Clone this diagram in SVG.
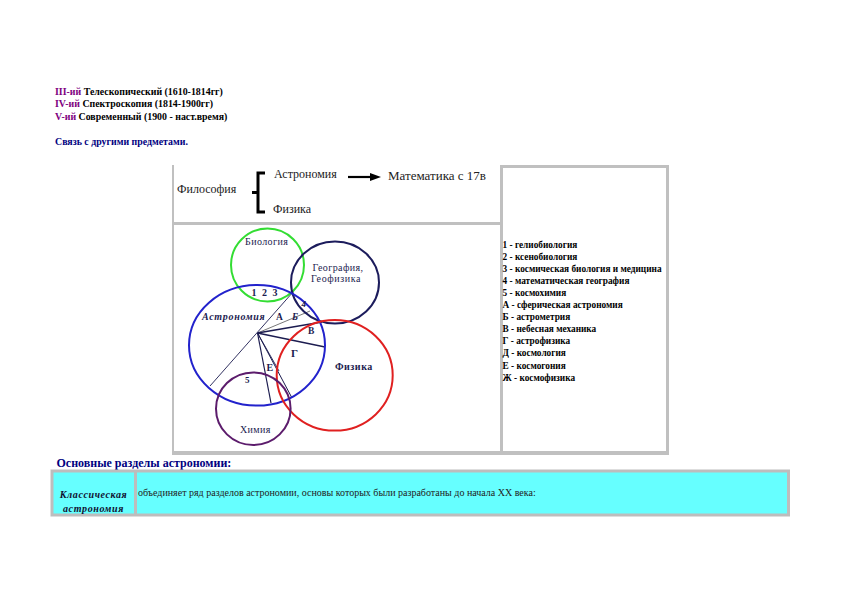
<svg xmlns="http://www.w3.org/2000/svg" width="842" height="595" viewBox="0 0 842 595" font-family="'Liberation Serif', 'DejaVu Serif', serif">
<style>
text{font-family:"Liberation Serif","DejaVu Serif",serif}
.hd{font-size:9.9px;font-weight:bold;fill:#000}
.pu{fill:#800080}
.nv{fill:#000080}
.tc{font-size:12px;fill:#222}
.lbl{font-size:10px;fill:#1c1c50}
.leg{font-size:9.3px;font-weight:bold;fill:#000}
.frame{stroke:#c0c0c0;fill:none}
.ln{stroke:#1c1c50;fill:none}
</style>
<rect width="842" height="595" fill="#fff"/>

<g id="periods" class="hd">
<text x="55" y="95"><tspan class="pu">III-ий</tspan> Телескопический (1610-1814гг)</text>
<text x="55" y="107"><tspan class="pu">IV-ий</tspan> Спектроскопия (1814-1900гг)</text>
<text x="55" y="119.5"><tspan class="pu">V-ий</tspan> Современный (1900 - наст.время)</text>
<text x="55" y="145" class="nv">Связь с другими предметами.</text>
</g>

<g id="table-frame">
<line class="frame" x1="173" y1="165" x2="173" y2="453" stroke-width="2"/>
<line class="frame" x1="172" y1="223.5" x2="501" y2="223.5" stroke-width="3"/>
<rect class="frame" x="501.5" y="166.5" width="166" height="286" stroke-width="3"/>
<line class="frame" x1="172" y1="453" x2="669" y2="453" stroke-width="4"/>
</g>

<g id="philosophy" class="tc">
<text x="177" y="193">Философия</text>
<path d="M265,173 H258 V212 H265 M258,192.5 H252" stroke="#000" stroke-width="3" fill="none"/>
<text x="274" y="178">Астрономия</text>
<text x="273" y="213">Физика</text>
<line x1="348" y1="177" x2="372" y2="177" stroke="#000" stroke-width="2.2"/>
<polygon points="370,173 381,177 370,181" fill="#000"/>
<text x="388" y="180" font-size="13">Математика с 17в</text>
</g>

<g id="connectors">
<line class="ln" x1="210" y1="386" x2="293" y2="292" stroke-width="0.9"/>
<line x1="257.5" y1="333" x2="310" y2="311" stroke="#555" stroke-width="0.8"/>
<line class="ln" x1="257.5" y1="333" x2="322" y2="322" stroke-width="1.6"/>
<line class="ln" x1="257.5" y1="333" x2="325" y2="347" stroke-width="1.3"/>
<line class="ln" x1="257.5" y1="333" x2="271" y2="403" stroke-width="1.2"/>
<line class="ln" x1="257.5" y1="333" x2="279" y2="371" stroke-width="0.9"/>
<line class="ln" x1="257.5" y1="333" x2="292" y2="398" stroke-width="1"/>
</g>

<g id="biology">
<circle cx="267.5" cy="265" r="36.5" fill="none" stroke="#33dd33" stroke-width="2"/>
<text class="lbl" x="245" y="245" letter-spacing="0.4">Биология</text>
</g>
<g id="geography">
<ellipse cx="335" cy="282.5" rx="44" ry="41" fill="none" stroke="#1c1c5c" stroke-width="2"/>
<text class="lbl" x="312.5" y="270.5" font-size="10.5" letter-spacing="0.4">География,</text>
<text class="lbl" x="311" y="282" font-size="10.5" letter-spacing="0.6">Геофизика</text>
</g>
<g id="astronomy">
<ellipse cx="257" cy="345.3" rx="68" ry="60.3" fill="none" stroke="#2222cc" stroke-width="2"/>
<text class="lbl" x="202" y="319.5" font-style="italic" font-weight="bold" letter-spacing="0.7">Астрономия</text>
</g>
<g id="physics">
<ellipse cx="334.7" cy="375.3" rx="58" ry="55.3" fill="none" stroke="#e02020" stroke-width="2"/>
<text class="lbl" x="335" y="370" font-weight="bold" letter-spacing="0.5">Физика</text>
</g>
<g id="chemistry">
<ellipse cx="253.3" cy="408.7" rx="37.3" ry="36.3" fill="none" stroke="#5c1c6c" stroke-width="2"/>
<text class="lbl" x="240" y="432.5" letter-spacing="0.4">Химия</text>
</g>

<g id="region-labels" class="lbl" font-weight="bold">
<text x="251.5" y="296" letter-spacing="1.5">1 2 3</text>
<text x="301.5" y="307" font-size="9" font-style="italic">4</text>
<text x="276" y="320" font-size="9.5">А</text>
<text x="292" y="320" font-size="9.5" font-style="italic">Б</text>
<text x="308" y="333.5" font-size="9.5">В</text>
<text x="291" y="357" font-size="11">Г</text>
<text x="266.5" y="370.5" font-size="10">Е</text>
<text x="245" y="383" font-size="9">5</text>
</g>

<g id="legend" class="leg">
<text x="502.5" y="247.5">1 - гелиобиология</text>
<text x="502.5" y="259.6">2 - ксенобиология</text>
<text x="502.5" y="271.7">3 - космическая биология и медицина</text>
<text x="502.5" y="283.8">4 - математическая география</text>
<text x="502.5" y="295.9">5 - космохимия</text>
<text x="502.5" y="308">А - сферическая астрономия</text>
<text x="502.5" y="320.1">Б - астрометрия</text>
<text x="502.5" y="332.2">В - небесная механика</text>
<text x="502.5" y="344.3">Г - астрофизика</text>
<text x="502.5" y="356.4">Д - космология</text>
<text x="502.5" y="368.5">Е - космогония</text>
<text x="502.5" y="380.6">Ж - космофизика</text>
</g>

<g id="sections">
<text class="nv" x="56.5" y="466.5" font-size="12" font-weight="bold">Основные разделы астрономии:</text>
<rect x="52" y="471" width="736.5" height="44" fill="#66ffff" stroke="#bdbdbd" stroke-width="3"/>
<line x1="135.5" y1="471" x2="135.5" y2="515" stroke="#bdbdbd" stroke-width="3"/>
<text x="93.5" y="497.5" font-size="10" font-style="italic" font-weight="bold" fill="#101030" text-anchor="middle" letter-spacing="0.6">Классическая</text>
<text x="93.5" y="511.5" font-size="10" font-style="italic" font-weight="bold" fill="#101030" text-anchor="middle" letter-spacing="0.6">астрономия</text>
<text x="138" y="495.5" font-size="10" fill="#222">объединяет ряд разделов астрономии, основы которых были разработаны до начала XX века:</text>
</g>
</svg>
